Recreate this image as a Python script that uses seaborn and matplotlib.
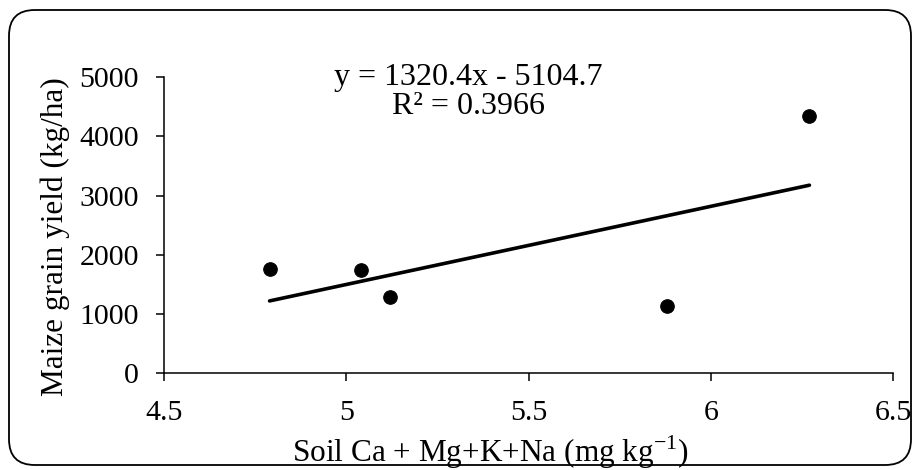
import matplotlib
matplotlib.use("Agg")
import matplotlib.pyplot as plt
import seaborn as sns
import numpy as np
import pandas as pd
from matplotlib.patches import FancyBboxPatch

# Data
cation_sum = [4.79, 5.04, 5.12, 5.88, 6.27]
grain_yield = [1755, 1740, 1285, 1135, 4345]
slope = 1320.4
intercept = -5104.7
r_squared = 0.3966
x_ticks = [4.5, 5, 5.5, 6, 6.5]
y_ticks = [0, 1000, 2000, 3000, 4000, 5000]

sns.set_style("white")
plt.rcParams['font.family'] = ['Liberation Serif', 'DejaVu Serif']
plt.rcParams['mathtext.fontset'] = 'custom'
plt.rcParams['mathtext.rm'] = 'Liberation Serif'

df = pd.DataFrame({"x": cation_sum, "y": grain_yield})
xfit = np.array([min(cation_sum), max(cation_sum)])
fit = pd.DataFrame({"x": xfit, "y": slope * xfit + intercept})

fig = plt.figure(figsize=(9.2, 4.7), dpi=100)
ax = fig.add_axes([0.178, 0.206, 0.793, 0.630])

sns.lineplot(data=fit, x="x", y="y", ax=ax, color="black", linewidth=2.6)
sns.scatterplot(data=df, x="x", y="y", ax=ax, color="black", s=95, edgecolor="black", zorder=3)

ax.set_xlim(4.5, 6.5)
ax.set_ylim(0, 5000)
ax.set_xticks(x_ticks)
ax.set_xticklabels(["4.5", "5", "5.5", "6", "6.5"])
ax.set_yticks(y_ticks)
ax.tick_params(axis="both", direction="out", length=6, width=1.1, color="black",
               labelsize=21.5, labelcolor="black", bottom=True, left=True)
ax.tick_params(axis="y", pad=12)
ax.tick_params(axis="x", pad=13)
for s in ["top", "right"]:
    ax.spines[s].set_visible(False)
for s in ["left", "bottom"]:
    ax.spines[s].set_color("black")
    ax.spines[s].set_linewidth(1.1)

ax.set_xlabel(r"Soil Ca + Mg+K+Na (mg kg$^{\mathregular{-1}}$)", fontsize=22.5, color="black")
ax.set_ylabel("Maize grain yield (kg/ha)", fontsize=22.5, color="black")
ax.xaxis.set_label_coords(0.447, -0.205)
ax.yaxis.set_label_coords(-0.128, 0.46)

ax.text(5.336, 4740, f"y = {slope}x - {abs(intercept)}\nR² = {r_squared}",
        ha="center", va="center", fontsize=23, color="black", linespacing=1.0)

border = FancyBboxPatch((9 / 920, 5 / 470), 902 / 920, 455 / 470,
                        boxstyle="round,pad=0,rounding_size=0.028",
                        transform=fig.transFigure, fill=False,
                        edgecolor="black", linewidth=1.3, mutation_aspect=920 / 470)
fig.patches.append(border)

fig.savefig("out.png", dpi=100)
